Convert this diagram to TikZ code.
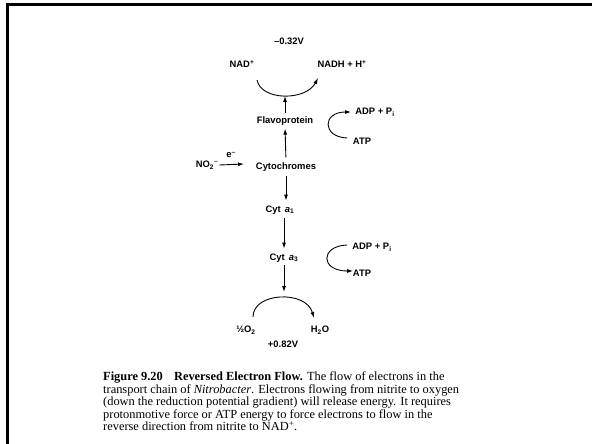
\documentclass[tikz,border=0pt]{standalone}
\usepackage{fontspec}
\setmainfont{Liberation Serif}
\setsansfont{Liberation Sans}
\usetikzlibrary{arrows.meta}
\tikzset{
  lbl/.style={font=\sffamily\bfseries\fontsize{9.4}{11}\selectfont, inner sep=1pt},
  arr/.style={line width=0.9pt, -{Latex[length=6pt,width=4pt]}},
  capline/.style={anchor=base west, inner sep=0pt, font=\fontsize{12.4}{12}\selectfont},
  frame/.style={line width=2.6pt, black}
}
\newcommand{\sups}[1]{\textsuperscript{#1}}
\newcommand{\subs}[1]{\textsubscript{#1}}
\begin{document}
\begin{tikzpicture}[x=1pt,y=-1pt]
\useasboundingbox (0,0) rectangle (592,444);
\draw[frame] (7.3,444) -- (7.3,4.3) -- (592,4.3);

% labels
\node[lbl] (e032) at (289,41) {\textendash0.32V};
\node[lbl] (nad) at (242,64) {NAD\sups{+}};
\node[lbl] (nadh) at (342,64) {NADH + H\sups{+}};
\node[lbl] (flavo) at (285,121) {Flavoprotein};
\node[lbl] (adp1) at (375,112) {ADP + P\subs{i}};
\node[lbl] (atp1) at (362,141) {ATP};
\node[lbl] (no2) at (207,165) {NO\subs{2}\sups{\textendash}};
\node[lbl] (eminus) at (231,155) {e\sups{\textendash}};
\node[lbl] (cyto) at (286,167) {Cytochromes};
\node[lbl] (cyta1) at (280,210) {Cyt \,\textit{a}\subs{1}};
\node[lbl] (cyta3) at (284,258) {Cyt \,\textit{a}\subs{3}};
\node[lbl] (adp2) at (372,247) {ADP + P\subs{i}};
\node[lbl] (atp2) at (362,273) {ATP};
\node[lbl] (o2) at (246,330) {\char"BD O\subs{2}};
\node[lbl] (h2o) at (320,330) {H\subs{2}O};
\node[lbl] (e082) at (283,344) {+0.82V};

% curve anchors
\coordinate (topS) at (257,80);
\coordinate (topE) at (318,78);
\coordinate (topB) at (285,96);
\coordinate (botS) at (253,317);
\coordinate (botE) at (314,318);
\coordinate (botT) at (284,292);
\coordinate (c1S) at (347,138);
\coordinate (c1E) at (351,112);
\coordinate (c2S) at (347,245);
\coordinate (c2E) at (353,271);
\coordinate (noE) at (244,164);

% curves
\draw[arr] (topS) .. controls (261,101) and (306,101) .. (topE);
\draw[arr] (botS) .. controls (253,292) and (306,290) .. (botE);
\draw[arr] (c1S) .. controls (322,137) and (322,112) .. (c1E);
\draw[arr] (c2S) .. controls (320,246) and (320,271) .. (c2E);

% vertical arrows
\draw[arr, shorten <=2pt] (flavo.north) -- (topB);
\draw[arr, shorten <=4pt, shorten >=2pt] (cyto.north) -- (flavo.south);
\draw[arr, shorten <=3pt, shorten >=4pt] (cyto.south) -- (cyto.south |- cyta1.north);
\draw[arr, shorten <=3pt, shorten >=4pt] ([xshift=4pt]cyta1.south) -- ([xshift=4pt]cyta1.south |- cyta3.north);
\draw[arr, shorten <=2pt] (cyta3.south) -- (botT);
\draw[arr] (no2.east) -- (noE);

% caption
\node[capline] (cap1) at (103,380.5) {\textbf{Figure 9.20\hspace{0.9em}Reversed Electron Flow.} The flow of electrons in the};
\node[capline] (cap2) at (103,393) {transport chain of \textit{Nitrobacter}. Electrons flowing from nitrite to oxygen};
\node[capline] (cap3) at (103,405.5) {(down the reduction potential gradient) will release energy. It requires};
\node[capline] (cap4) at (103,418) {protonmotive force or ATP energy to force electrons to flow in the};
\node[capline] (cap5) at (103,430.5) {reverse direction from nitrite to NAD\textsuperscript{+}.};
\end{tikzpicture}
\end{document}
